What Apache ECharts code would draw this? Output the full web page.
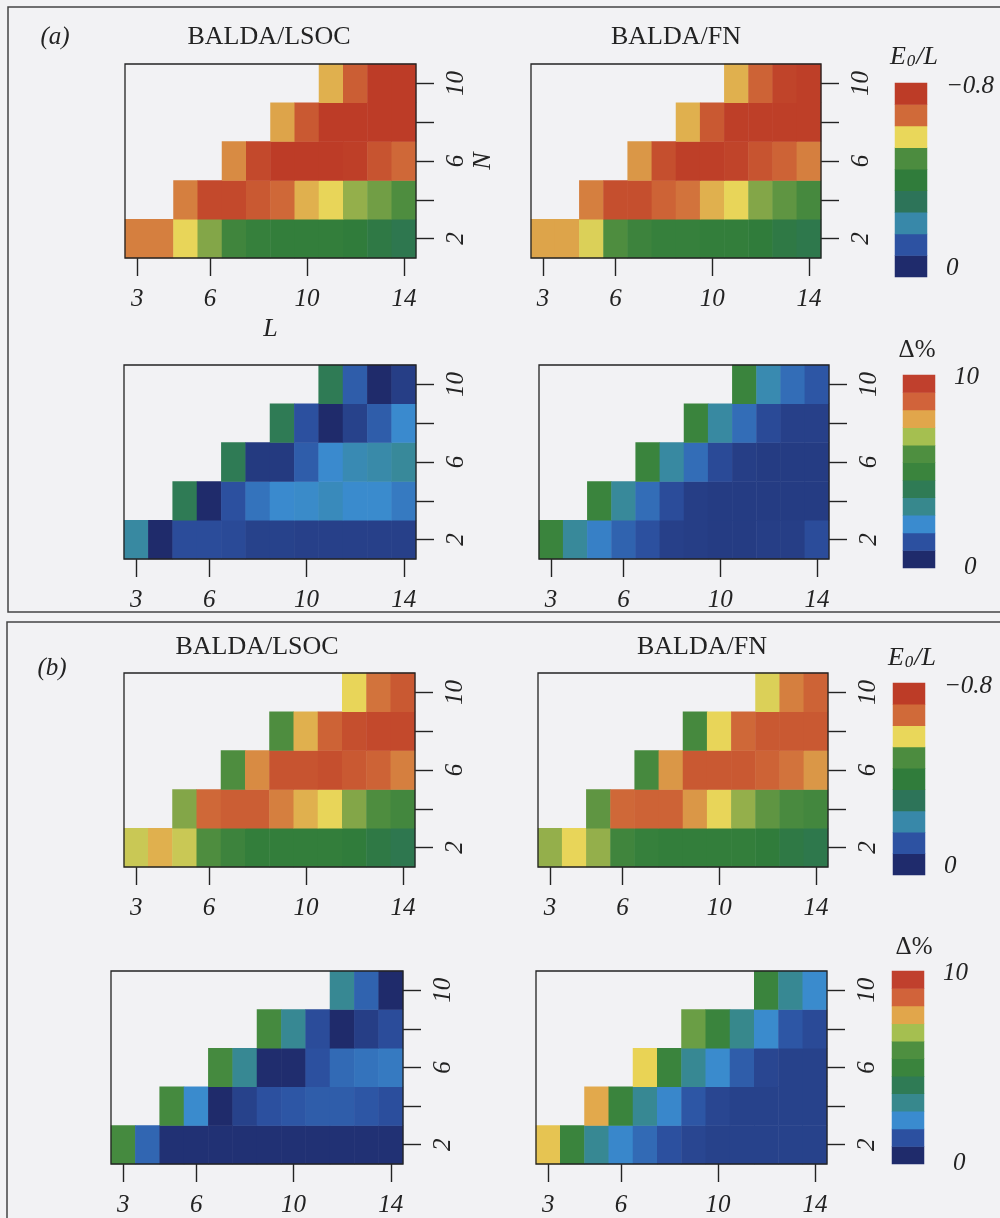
<!DOCTYPE html>
<html>
<head>
<meta charset="utf-8">
<script src="https://cdn.jsdelivr.net/npm/echarts@6/dist/echarts.min.js"></script>
<style>
  html, body { margin: 0; padding: 0; background: #f2f2f4; }
  #chart { width: 1000px; height: 1218px; }
</style>
</head>
<body>
<div id="chart"></div>
<script>
// Lattice length L (columns) and particle number N (rows)
const L_VALUES = ['3', '4', '5', '6', '7', '8', '9', '10', '11', '12', '13', '14'];
const N_VALUES = ['2', '4', '6', '8', '10'];
const L_TICKS = ['3', '6', '10', '14'];
const N_TICKS = ['2', '6', '10'];

// Each table: rows N = 2, 4, 6, 8, 10; columns L = 3 ... 14; null = not computed
// (a) ground-state energy per site E0/L
const A_LSOC_E = [
  [-0.65, -0.65, -0.58, -0.52, -0.45, -0.42, -0.41, -0.41, -0.41, -0.40, -0.37, -0.34],
  [null, null, -0.65, -0.73, -0.73, -0.70, -0.67, -0.61, -0.58, -0.53, -0.51, -0.49],
  [null, null, null, null, -0.64, -0.73, -0.76, -0.76, -0.76, -0.75, -0.71, -0.67],
  [null, null, null, null, null, null, -0.62, -0.70, -0.76, -0.76, -0.76, -0.76],
  [null, null, null, null, null, null, null, null, -0.61, -0.69, -0.76, -0.76]
];
const A_FN_E = [
  [-0.62, -0.62, -0.57, -0.49, -0.44, -0.42, -0.42, -0.41, -0.41, -0.40, -0.37, -0.35],
  [null, null, -0.65, -0.72, -0.72, -0.68, -0.66, -0.61, -0.58, -0.52, -0.50, -0.47],
  [null, null, null, null, -0.63, -0.72, -0.75, -0.75, -0.74, -0.71, -0.68, -0.65],
  [null, null, null, null, null, null, -0.61, -0.70, -0.75, -0.75, -0.75, -0.75],
  [null, null, null, null, null, null, null, null, -0.61, -0.68, -0.74, -0.75]
];
// (a) relative deviation, per cent
const A_LSOC_D = [
  [2.9, 0.45, 1.25, 1.25, 1.2, 1.0, 1.0, 0.95, 0.95, 0.95, 0.95, 0.95],
  [null, null, 4.1, 0.45, 1.35, 1.9, 2.25, 2.35, 2.55, 2.3, 2.3, 2.0],
  [null, null, null, null, 4.1, 0.8, 0.8, 1.55, 2.25, 2.65, 2.8, 3.0],
  [null, null, null, null, null, null, 4.1, 1.35, 0.3, 1.0, 1.55, 2.25],
  [null, null, null, null, null, null, null, null, 4.1, 1.55, 0.4, 0.9]
];
const A_FN_D = [
  [5.0, 3.0, 2.1, 1.65, 1.35, 0.95, 0.9, 0.85, 0.85, 0.9, 0.9, 1.25],
  [null, null, 5.0, 3.0, 1.8, 1.25, 0.9, 0.85, 0.85, 0.85, 0.85, 0.85],
  [null, null, null, null, 5.0, 2.9, 1.8, 1.2, 0.9, 0.85, 0.85, 0.85],
  [null, null, null, null, null, null, 5.0, 2.9, 1.8, 1.2, 0.95, 0.95],
  [null, null, null, null, null, null, null, null, 5.0, 2.7, 1.8, 1.45]
];
// (b) ground-state energy per site E0/L
const B_LSOC_E = [
  [-0.56, -0.61, -0.56, -0.49, -0.44, -0.41, -0.41, -0.41, -0.41, -0.40, -0.37, -0.34],
  [null, null, -0.52, -0.67, -0.69, -0.69, -0.65, -0.61, -0.58, -0.52, -0.49, -0.46],
  [null, null, null, null, -0.49, -0.64, -0.71, -0.71, -0.72, -0.70, -0.68, -0.65],
  [null, null, null, null, null, null, -0.49, -0.61, -0.68, -0.72, -0.73, -0.73],
  [null, null, null, null, null, null, null, null, null, -0.58, -0.66, -0.70]
];
const B_FN_E = [
  [-0.53, -0.58, -0.53, -0.45, -0.42, -0.41, -0.41, -0.41, -0.41, -0.40, -0.37, -0.35],
  [null, null, -0.50, -0.67, -0.68, -0.68, -0.63, -0.58, -0.53, -0.50, -0.48, -0.46],
  [null, null, null, null, -0.47, -0.63, -0.70, -0.70, -0.70, -0.68, -0.66, -0.63],
  [null, null, null, null, null, null, -0.47, -0.58, -0.67, -0.70, -0.70, -0.70],
  [null, null, null, null, null, null, null, null, null, -0.57, -0.65, -0.68]
];
// (b) relative deviation, per cent
const B_LSOC_D = [
  [5.5, 1.7, 0.6, 0.6, 0.6, 0.6, 0.6, 0.6, 0.6, 0.6, 0.6, 0.6],
  [null, null, 5.5, 2.3, 0.4, 1.0, 1.35, 1.45, 1.55, 1.55, 1.45, 1.3],
  [null, null, null, null, 5.5, 3.1, 0.5, 0.5, 1.35, 1.75, 1.9, 2.0],
  [null, null, null, null, null, null, 5.5, 3.1, 1.25, 0.3, 0.9, 1.25],
  [null, null, null, null, null, null, null, null, null, 3.1, 1.65, 0.4]
];
const B_FN_D = [
  [7.45, 5.0, 3.1, 2.2, 1.75, 1.35, 1.1, 1.0, 1.0, 1.0, 1.0, 1.0],
  [null, null, 7.7, 5.0, 3.1, 2.2, 1.45, 1.1, 1.0, 1.0, 1.0, 1.0],
  [null, null, null, null, 7.3, 5.0, 3.1, 2.3, 1.55, 1.1, 1.0, 1.0],
  [null, null, null, null, null, null, 6.2, 5.0, 3.2, 2.3, 1.45, 1.2],
  [null, null, null, null, null, null, null, null, null, 5.0, 3.1, 2.3]
];

// Colour-bar levels (bottom to top) and their end labels
const E_LEVELS = [-0.044, -0.133, -0.222, -0.311, -0.400, -0.489, -0.578, -0.667, -0.756];
const D_LEVELS = [0.45, 1.36, 2.27, 3.18, 4.09, 5.00, 5.91, 6.82, 7.73, 8.64, 9.55];
const E_END_LABELS = ['0', '\u22120.8'];
const D_END_LABELS = ['0', '10'];

// Palette, one colour per colour-bar level (bottom to top)
const E_COLORS = ['#1f2b6c', '#2d52a2', '#3888a9', '#2d7459', '#307c3b', '#4c8c3f', '#e9d75a', '#d06a39', '#bd3c27'];
const D_COLORS = ['#1f2b6b', '#2c50a0', '#3a8bcf', '#37888d', '#2f7b55', '#3a843d', '#4e8f40', '#a5bf50', '#e1a64b', '#d1633a', '#c0402d'];
const D_YELLOW = '#e9d656';

function hexMix(a, b, t) {
  const pa = [1, 3, 5].map(i => parseInt(a.slice(i, i + 2), 16));
  const pb = [1, 3, 5].map(i => parseInt(b.slice(i, i + 2), 16));
  return '#' + pa.map((v, i) => Math.round(v + (pb[i] - v) * t).toString(16).padStart(2, '0')).join('');
}
// Half-step ramp for the deviation scale; passes through yellow between its 8th and 9th level
const D_RAMP = [];
D_COLORS.forEach((c, i) => {
  D_RAMP.push(c);
  if (i < D_COLORS.length - 1) D_RAMP.push(i === 7 ? D_YELLOW : hexMix(c, D_COLORS[i + 1], 0.5));
});

const SERIF = "'Liberation Serif', 'DejaVu Serif', 'Times New Roman', serif";
const INK = '#232323';

// Plot rectangles: eight maps, then four colour bars
const GRIDS = [
  { left: 125, top: 64, width: 291, height: 194 },
  { left: 531, top: 64, width: 290, height: 194 },
  { left: 124, top: 365, width: 292, height: 194 },
  { left: 539, top: 365, width: 290, height: 194 },
  { left: 124, top: 673, width: 291, height: 194 },
  { left: 538, top: 673, width: 290, height: 194 },
  { left: 111, top: 971, width: 292, height: 193 },
  { left: 536, top: 971, width: 291, height: 193 },
  { left: 895, top: 83, width: 32, height: 194 },
  { left: 903, top: 375, width: 32, height: 193 },
  { left: 893, top: 683, width: 32, height: 192 },
  { left: 892, top: 971, width: 32, height: 193 }
];
const MAPS = [A_LSOC_E, A_FN_E, A_LSOC_D, A_FN_D, B_LSOC_E, B_FN_E, B_LSOC_D, B_FN_D];
const BARS = [
  { levels: E_LEVELS, ends: E_END_LABELS, kind: 'E' },
  { levels: D_LEVELS, ends: D_END_LABELS, kind: 'D' },
  { levels: E_LEVELS, ends: E_END_LABELS, kind: 'E' },
  { levels: D_LEVELS, ends: D_END_LABELS, kind: 'D' }
];

function toCells(table) {
  const out = [];
  table.forEach((row, r) => row.forEach((v, c) => { if (v !== null) out.push([c, r, v]); }));
  return out;
}

const tickText = { fontFamily: SERIF, fontStyle: 'italic', fontSize: 25, color: INK };
const tickLine = { color: INK, width: 1.4 };
const showL = (i, v) => L_TICKS.includes(v);
const showN = (i, v) => N_TICKS.includes(v);

const xAxes = [], yAxes = [], series = [];
MAPS.forEach((table, i) => {
  xAxes.push({
    type: 'category', gridIndex: i, data: L_VALUES,
    axisLine: { show: false },
    axisTick: { show: true, alignWithLabel: true, length: 18, interval: showL, lineStyle: tickLine },
    axisLabel: Object.assign({ interval: showL, margin: 29 }, tickText),
    splitLine: { show: false },
    name: i === 0 ? 'L' : '', nameLocation: 'middle', nameGap: 58,
    nameTextStyle: { fontFamily: SERIF, fontStyle: 'italic', fontSize: 26, color: INK }
  });
  yAxes.push({
    type: 'category', gridIndex: i, data: N_VALUES, position: 'right',
    axisLine: { show: false },
    axisTick: { show: true, alignWithLabel: true, length: 18, interval: 0, lineStyle: tickLine },
    axisLabel: Object.assign({ interval: showN, rotate: 90, margin: 28 }, tickText),
    splitLine: { show: false },
    name: i === 0 ? 'N' : '', nameLocation: 'middle', nameGap: 54, nameRotate: 90,
    nameTextStyle: { fontFamily: SERIF, fontStyle: 'italic', fontSize: 26, color: INK }
  });
  series.push({
    type: 'heatmap', xAxisIndex: i, yAxisIndex: i, data: toCells(table),
    itemStyle: { borderWidth: 0 }, emphasis: { disabled: true }, silent: true
  });
});

BARS.forEach((bar, j) => {
  const gi = 8 + j;
  const last = bar.levels.length - 1;
  const isE = bar.kind === 'E';
  xAxes.push({ type: 'category', gridIndex: gi, data: [''], show: false });
  yAxes.push({
    type: 'category', gridIndex: gi, position: 'right', data: bar.levels.map(String),
    axisLine: { show: false }, axisTick: { show: false }, splitLine: { show: false },
    axisLabel: Object.assign({
      interval: 0, margin: 19,
      formatter: (v, k) => k === last ? '{hi|' + bar.ends[1] + '}' : (k === 0 ? '{lo|' + bar.ends[0] + '}' : ''),
      rich: {
        hi: Object.assign({ padding: [0, 0, isE ? 14 : 12, 0] }, tickText),
        lo: Object.assign({ padding: isE ? [4, 0, 0, 0] : [17, 0, 0, 10] }, tickText)
      }
    }, tickText)
  });
  series.push({
    type: 'heatmap', xAxisIndex: gi, yAxisIndex: gi,
    data: bar.levels.map((v, k) => [0, k, v]),
    itemStyle: { borderWidth: 0 }, emphasis: { disabled: true }, silent: true
  });
});

// Frames around the map areas and the two panels, plus headings
const graphics = [
  { type: 'rect', shape: { x: 8, y: 7, width: 1100, height: 605 }, style: { fill: 'none', stroke: '#444', lineWidth: 1.5 }, z: 5 },
  { type: 'rect', shape: { x: 7, y: 622, width: 1100, height: 700 }, style: { fill: 'none', stroke: '#444', lineWidth: 1.5 }, z: 5 }
];
GRIDS.slice(0, 8).forEach(g => graphics.push({
  type: 'rect', shape: { x: g.left, y: g.top, width: g.width, height: g.height },
  style: { fill: 'none', stroke: INK, lineWidth: 1.3 }, z: 10
}));
function label(text, x, y, opts) {
  graphics.push({
    type: 'text', x: x, y: y, z: 10,
    style: Object.assign({ text: text, align: 'center', verticalAlign: 'middle', fontFamily: SERIF, fontSize: 26, fill: INK }, opts || {})
  });
}
const italic = { fontStyle: 'italic', fontSize: 25 };
const e0Rich = {
  text: '{e|E}{s|0}{e|/L}',
  rich: {
    e: { fontFamily: SERIF, fontStyle: 'italic', fontSize: 26, fill: INK, verticalAlign: 'bottom' },
    s: { fontFamily: SERIF, fontStyle: 'italic', fontSize: 17, fill: INK, verticalAlign: 'bottom', padding: [0, 1, 0, 1] }
  }
};
label('(a)', 55, 37, italic);
label('BALDA/LSOC', 269, 37);
label('BALDA/FN', 676, 37);
label('', 914, 57, e0Rich);
label('\u0394%', 917, 350, { fontSize: 25 });
label('(b)', 52, 668, italic);
label('BALDA/LSOC', 257, 647);
label('BALDA/FN', 702, 647);
label('', 912, 658, e0Rich);
label('\u0394%', 914, 947, { fontSize: 25 });

const option = {
  backgroundColor: '#f2f2f4',
  animation: false,
  grid: GRIDS.map(g => Object.assign({ show: false, outerBoundsMode: 'none' }, g)),
  xAxis: xAxes,
  yAxis: yAxes,
  visualMap: [
    {
      type: 'continuous', show: false, dimension: 2,
      seriesIndex: [0, 1, 4, 5, 8, 10],
      min: E_LEVELS[E_LEVELS.length - 1], max: E_LEVELS[0],
      inRange: { color: E_COLORS.slice().reverse() }
    },
    {
      type: 'continuous', show: false, dimension: 2,
      seriesIndex: [2, 3, 6, 7, 9, 11],
      min: D_LEVELS[0], max: D_LEVELS[D_LEVELS.length - 1],
      inRange: { color: D_RAMP }
    }
  ],
  series: series,
  graphic: { elements: graphics }
};

const chart = echarts.init(document.getElementById('chart'), null, { renderer: 'canvas' });
chart.setOption(option);
</script>
</body>
</html>
